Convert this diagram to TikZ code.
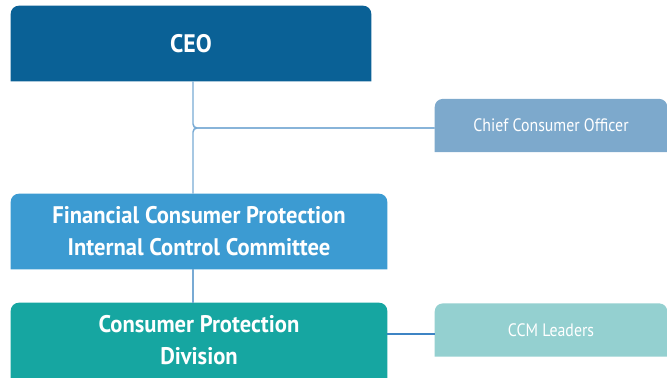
\documentclass[tikz,border=0pt]{standalone}
\usepackage{fontspec}
\setmainfont{PT Sans}[FakeStretch=0.88,BoldFeatures={FakeStretch=0.94}]
\usetikzlibrary{backgrounds}

\definecolor{ceoblue}{RGB}{10,97,150}
\definecolor{fcpblue}{RGB}{60,155,210}
\definecolor{cpdteal}{RGB}{22,166,161}
\definecolor{ccoblue}{RGB}{125,169,204}
\definecolor{ccmteal}{RGB}{148,208,208}
\definecolor{linkblue}{RGB}{120,170,212}
\definecolor{linkdark}{RGB}{62,132,196}

\tikzset{
  unitbox/.style={inner sep=0pt,align=center,text=white,font=\bfseries\fontsize{18}{24}\selectfont,minimum height=56.25pt},
  sidebox/.style={inner sep=0pt,text=white,font=\fontsize{13.5}{16}\selectfont,minimum width=174pt,minimum height=39.5pt},
  link/.style={line width=1.1pt,draw=linkblue}
}

\begin{document}
\begin{tikzpicture}[x=0.75pt,y=-0.75pt]
\useasboundingbox (0,0) rectangle (667,378);
\node[unitbox,minimum width=270pt,font=\bfseries\fontsize{19}{24}\selectfont] (ceo) at (191,43.5) {CEO};
\node[sidebox] (cco) at (551,125.5) {Chief Consumer Officer};
\node[unitbox,minimum width=282pt] (fcp) at (199,231.5) {Financial Consumer Protection\\Internal Control Committee};
\node[unitbox,minimum width=282pt] (cpd) at (199,340.5) {Consumer Protection\\Division};
\node[sidebox] (ccm) at (551,330) {CCM Leaders};
% box fills, rounded on top only
\begin{scope}[on background layer]
\foreach \n/\c in {ceo/ceoblue,fcp/fcpblue,cpd/cpdteal,cco/ccoblue,ccm/ccmteal}
  \fill[\c] (\n.south west) -- (\n.west) [rounded corners=6pt] -- (\n.north west) -- (\n.north east) -- (\n.east) [sharp corners] -- (\n.south east) -- cycle;
\end{scope}
% connectors
\coordinate (jn) at (193,128);
\draw[link,rounded corners=3pt] (ceo.south -| jn) -- (jn) -- (jn -| cco.west);
\draw[link,rounded corners=3pt] (fcp.north -| jn) -- (jn) -- (jn -| cco.west);
\draw[link] (fcp.south -| jn) -- (cpd.north -| jn);
\draw[link,draw=linkdark] ([yshift=-3pt]ccm.west -| cpd.east) -- ([yshift=-3pt]ccm.west);
\end{tikzpicture}
\end{document}
